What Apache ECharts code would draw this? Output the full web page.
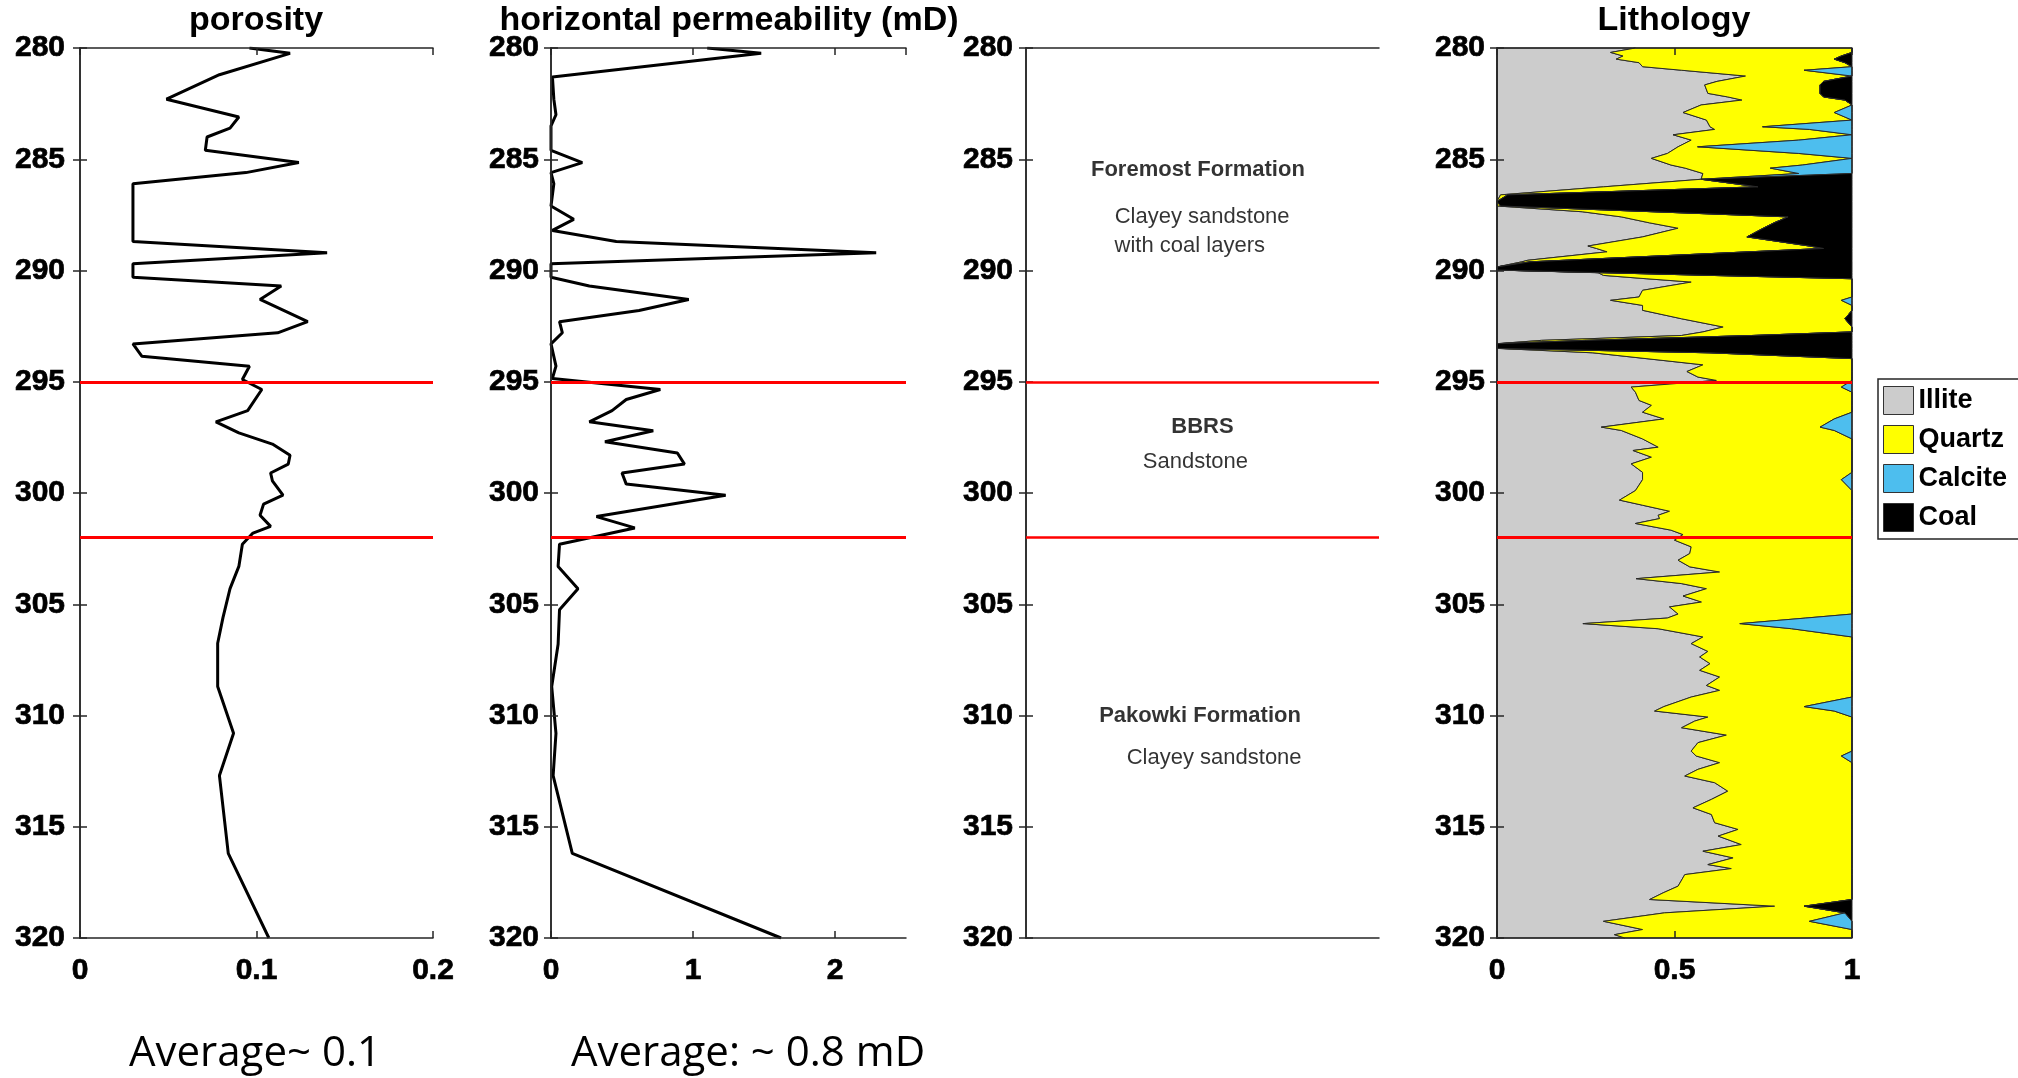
<!DOCTYPE html>
<html>
<head>
<meta charset="utf-8">
<title>Well log</title>
<script src="https://cdn.jsdelivr.net/npm/echarts@6.0.0/dist/echarts.min.js"></script>
<style>
  html, body { margin: 0; padding: 0; background: #fff; }
  #chart { width: 2018px; height: 1078px; }
</style>
</head>
<body>
<div id="chart"></div>
<script>
// porosity log (fraction)
const porosityDepth = [280.0, 280.24, 281.2, 282.3, 283.1, 283.6, 284.0, 284.6, 285.15, 285.6,
  286.1, 288.7, 289.2, 289.7, 290.3, 290.7, 291.3, 292.3, 292.8, 293.3,
  293.85, 294.3, 294.9, 295.35, 296.3, 296.8, 297.3, 297.8, 298.3, 298.7,
  299.1, 299.45, 300.1, 300.5, 301.0, 301.5, 301.8, 302.3, 303.3, 304.3,
  305.6, 306.75, 308.7, 310.8, 312.7, 316.2, 320.0]
const porosity = [0.096, 0.119, 0.079, 0.049, 0.090, 0.085, 0.072, 0.071, 0.124, 0.094,
  0.030, 0.030, 0.140, 0.030, 0.030, 0.114, 0.102, 0.129, 0.112, 0.030,
  0.035, 0.096, 0.092, 0.103, 0.095, 0.077, 0.090, 0.109, 0.119, 0.118,
  0.108, 0.109, 0.115, 0.104, 0.102, 0.108, 0.098, 0.092, 0.090, 0.085,
  0.081, 0.078, 0.078, 0.087, 0.079, 0.084, 0.107]

// horizontal permeability log (mD)
const permDepth = [280.0, 280.24, 281.3, 282.3, 283.0, 283.5, 284.6, 285.15, 285.6, 286.1,
  287.1, 287.7, 288.2, 288.7, 289.2, 289.7, 290.3, 290.7, 291.3, 291.8,
  292.3, 292.8, 293.3, 294.3, 294.85, 295.35, 295.8, 296.3, 296.8, 297.2,
  297.7, 298.2, 298.7, 299.1, 299.6, 300.1, 301.06, 301.57, 302.3, 303.3,
  304.3, 305.25, 306.8, 308.7, 310.8, 312.7, 316.2, 320.0]
const permeability = [1.10, 1.48, 0.01, 0.02, 0.035, 0.0, 0.0, 0.22, 0.0, 0.02,
  0.0, 0.16, 0.01, 0.46, 2.29, 0.0, 0.0, 0.27, 0.97, 0.62,
  0.06, 0.08, 0.0, 0.035, 0.01, 0.77, 0.53, 0.43, 0.27, 0.72,
  0.38, 0.89, 0.94, 0.50, 0.53, 1.23, 0.32, 0.59, 0.06, 0.05,
  0.19, 0.06, 0.05, 0.005, 0.035, 0.015, 0.15, 1.62]

// lithology fractions
const lithoDepth = [280.0, 280.2, 280.36, 280.5, 280.66, 280.84, 281.0, 281.26, 281.5, 281.66,
  282.04, 282.2, 282.34, 282.56, 282.9, 283.24, 283.54, 283.66, 283.9, 284.14,
  284.44, 284.74, 284.96, 285.26, 285.4, 285.64, 285.9, 286.24, 286.6, 286.9,
  287.1, 287.36, 287.59, 287.86, 288.1, 288.49, 288.9, 289.01, 289.16, 289.54,
  289.61, 289.84, 289.98, 290.1, 290.22, 290.37, 290.52, 290.89, 291.19, 291.34,
  291.57, 291.79, 292.17, 292.54, 292.76, 292.92, 293.14, 293.29, 293.5, 293.7,
  293.96, 294.24, 294.54, 294.79, 294.94, 295.24, 295.47, 295.84, 296.06, 296.37,
  296.67, 297.04, 297.19, 297.57, 297.94, 298.09, 298.39, 298.69, 299.07, 299.4,
  299.89, 300.32, 300.55, 300.82, 301.0, 301.15, 301.37, 301.67, 301.87, 302.12,
  302.42, 302.72, 303.02, 303.32, 303.55, 303.85, 304.07, 304.3, 304.63, 304.9,
  305.12, 305.44, 305.62, 305.87, 306.1, 306.47, 306.77, 307.12, 307.37, 307.67,
  307.97, 308.27, 308.65, 308.87, 309.17, 309.6, 309.8, 310.07, 310.25, 310.55,
  310.88, 311.22, 311.6, 311.82, 312.12, 312.42, 312.72, 313.02, 313.4, 313.77,
  314.15, 314.45, 314.82, 315.12, 315.42, 315.8, 316.1, 316.4, 316.7, 316.88,
  317.15, 317.67, 317.97, 318.27, 318.57, 318.87, 319.25, 319.62, 319.85, 320.0]
const illite = [0.39, 0.32, 0.355, 0.336, 0.40, 0.41, 0.52, 0.70, 0.62, 0.585,
  0.594, 0.65, 0.69, 0.575, 0.524, 0.59, 0.60, 0.613, 0.496, 0.547,
  0.51, 0.48, 0.435, 0.49, 0.53, 0.58, 0.575, 0.30, 0.01, 0,
  0, 0.24, 0.35, 0.43, 0.51, 0.41, 0.256, 0.28, 0.31, 0.087,
  0.07, 0, 0, 0.285, 0.30, 0.42, 0.547, 0.41, 0.40, 0.32,
  0.41, 0.41, 0.52, 0.637, 0.58, 0.52, 0.125, 0, 0, 0.27,
  0.42, 0.58, 0.535, 0.566, 0.618, 0.378, 0.39, 0.40, 0.435, 0.41,
  0.47, 0.294, 0.35, 0.41, 0.454, 0.383, 0.435, 0.378, 0.41, 0.41,
  0.39, 0.345, 0.41, 0.486, 0.454, 0.458, 0.39, 0.49, 0.524, 0.50,
  0.547, 0.543, 0.51, 0.543, 0.627, 0.392, 0.519, 0.59, 0.524, 0.576,
  0.486, 0.51, 0.48, 0.242, 0.454, 0.58, 0.547, 0.594, 0.571, 0.60,
  0.571, 0.627, 0.59, 0.627, 0.547, 0.47, 0.444, 0.594, 0.557, 0.52,
  0.646, 0.566, 0.547, 0.561, 0.627, 0.566, 0.529, 0.613, 0.65, 0.604,
  0.552, 0.604, 0.613, 0.679, 0.623, 0.688, 0.58, 0.665, 0.594, 0.66,
  0.529, 0.51, 0.468, 0.43, 0.782, 0.472, 0.30, 0.41, 0.331, 0.36]
const quartz = [0.61, 0.68, 0.615, 0.614, 0.58, 0.59, 0.345, 0.30, 0.30, 0.325,
  0.316, 0.27, 0.29, 0.425, 0.426, 0.41, 0.148, 0.267, 0.504, 0.303,
  0.055, 0.37, 0.565, 0.37, 0.24, 0.27, 0, 0.435, 0.02, 0,
  0.01, 0.20, 0.47, 0.35, 0.24, 0.294, 0.624, 0.64, 0.40, 0.103,
  0.023, 0, 0, 0.015, 0.30, 0.58, 0.453, 0.59, 0.60, 0.65,
  0.59, 0.59, 0.46, 0.363, 0.42, 0.20, 0.125, 0, 0, 0.33,
  0.58, 0.42, 0.465, 0.434, 0.382, 0.592, 0.61, 0.60, 0.565, 0.59,
  0.48, 0.616, 0.60, 0.59, 0.546, 0.617, 0.565, 0.622, 0.59, 0.56,
  0.61, 0.655, 0.59, 0.514, 0.546, 0.542, 0.61, 0.51, 0.476, 0.50,
  0.453, 0.457, 0.49, 0.457, 0.373, 0.608, 0.481, 0.41, 0.476, 0.424,
  0.514, 0.49, 0.39, 0.442, 0.376, 0.42, 0.453, 0.406, 0.429, 0.40,
  0.429, 0.373, 0.41, 0.373, 0.453, 0.395, 0.506, 0.406, 0.443, 0.48,
  0.354, 0.434, 0.453, 0.409, 0.373, 0.434, 0.471, 0.387, 0.35, 0.396,
  0.448, 0.396, 0.387, 0.321, 0.377, 0.312, 0.42, 0.335, 0.406, 0.34,
  0.471, 0.49, 0.532, 0.57, 0.083, 0.508, 0.58, 0.59, 0.669, 0.64]
const calcite = [0, 0, 0, 0, 0, 0, 0.135, 0, 0, 0,
  0, 0, 0, 0, 0.05, 0, 0.252, 0.12, 0, 0.15,
  0.435, 0.15, 0, 0.14, 0.23, 0.15, 0, 0, 0, 0,
  0, 0, 0, 0, 0, 0, 0, 0, 0, 0,
  0, 0, 0, 0, 0, 0, 0, 0, 0, 0.03,
  0, 0, 0, 0, 0, 0, 0, 0, 0, 0,
  0, 0, 0, 0, 0, 0.03, 0, 0, 0, 0,
  0.05, 0.09, 0.05, 0, 0, 0, 0, 0, 0, 0.03,
  0, 0, 0, 0, 0, 0, 0, 0, 0, 0,
  0, 0, 0, 0, 0, 0, 0, 0, 0, 0,
  0, 0, 0.13, 0.316, 0.17, 0, 0, 0, 0, 0,
  0, 0, 0, 0, 0, 0.135, 0.05, 0, 0, 0,
  0, 0, 0, 0.03, 0, 0, 0, 0, 0, 0,
  0, 0, 0, 0, 0, 0, 0, 0, 0, 0,
  0, 0, 0, 0, 0, 0, 0.12, 0, 0, 0]
const coal = [0, 0, 0.03, 0.05, 0.02, 0, 0, 0, 0.08, 0.09,
  0.09, 0.08, 0.02, 0, 0, 0, 0, 0, 0, 0,
  0, 0, 0, 0, 0, 0, 0.425, 0.265, 0.97, 1,
  0.99, 0.56, 0.18, 0.22, 0.25, 0.296, 0.12, 0.08, 0.29, 0.81,
  0.907, 1, 1, 0.70, 0.40, 0, 0, 0, 0, 0,
  0, 0, 0.02, 0, 0, 0.28, 0.75, 1, 1, 0.40,
  0, 0, 0, 0, 0, 0, 0, 0, 0, 0,
  0, 0, 0, 0, 0, 0, 0, 0, 0, 0,
  0, 0, 0, 0, 0, 0, 0, 0, 0, 0,
  0, 0, 0, 0, 0, 0, 0, 0, 0, 0,
  0, 0, 0, 0, 0, 0, 0, 0, 0, 0,
  0, 0, 0, 0, 0, 0, 0, 0, 0, 0,
  0, 0, 0, 0, 0, 0, 0, 0, 0, 0,
  0, 0, 0, 0, 0, 0, 0, 0, 0, 0,
  0, 0, 0, 0, 0.135, 0.02, 0, 0, 0, 0]
const lithoNames = ['Illite', 'Quartz', 'Calcite', 'Coal']

// formation tops (m)
const formationTops = [295, 302]

// formation annotations in the third track
const formationText = ['Foremost Formation', 'Clayey sandstone', 'with coal layers', 'BBRS', 'Sandstone', 'Pakowki Formation', 'Clayey sandstone']
const formationDepth = [285.5, 287.6, 288.9, 297.05, 298.6, 310.0, 311.9]
const formationPos = [0.487, 0.499, 0.464, 0.5, 0.48, 0.493, 0.533]
const formationBold = [true, false, false, true, false, true, false]

const FONT = '"Liberation Sans", Arial, sans-serif'
const lithoColors = ['#cccccc', '#ffff00', '#4dbeee', '#000000']
const frameColor = '#262626'

const panels = [
  { left: 80, width: 353, xMin: 0, xMax: 0.2, xStep: 0.1, labels: true, yMargin: 15 },
  { left: 551, width: 355, xMin: 0, xMax: 2.5, xStep: 1, labels: true, yMargin: 12 },
  { left: 1026, width: 353, xMin: 0, xMax: 1, xStep: 1, labels: false, yMargin: 13 },
  { left: 1497, width: 355, xMin: 0, xMax: 1, xStep: 0.5, labels: true, yMargin: 12 }
]

// running sums for the stacked lithology track
const layers = [illite, quartz, calcite, coal]
const cum = [lithoDepth.map(() => 0)]
layers.forEach((arr, k) => {
  cum.push(arr.map((v, i) => cum[k][i] + v))
})

const tickFont = {
  fontSize: 30, fontWeight: 'bold', color: '#000', fontFamily: FONT,
  textBorderColor: '#000', textBorderWidth: 0.7
}

const grids = []
const xAxes = []
const yAxes = []
panels.forEach((p, i) => {
  grids.push({ left: p.left, top: 48, width: p.width, height: 890 })
  const line = { show: true, lineStyle: { color: frameColor, width: 1.5 } }
  const tick = { show: p.labels, inside: true, length: 7, lineStyle: { color: frameColor, width: 1.5 } }
  xAxes.push({
    gridIndex: i, type: 'value', position: 'bottom', min: p.xMin, max: p.xMax, interval: p.xStep, z: 5,
    axisLine: line, axisTick: tick, splitLine: { show: false },
    axisLabel: Object.assign({ show: p.labels, showMaxLabel: i !== 1, margin: 18 }, tickFont)
  })
  xAxes.push({
    gridIndex: i, type: 'value', position: 'top', min: p.xMin, max: p.xMax, interval: p.xStep, z: 5,
    axisLine: line, axisTick: tick, splitLine: { show: false }, axisLabel: { show: false }
  })
  const ytick = { show: true, inside: true, length: 7, lineStyle: { color: frameColor, width: 1.5 } }
  yAxes.push({
    gridIndex: i, type: 'value', position: 'left', min: 280, max: 320, interval: 5, inverse: true, z: 5,
    axisLine: line, axisTick: ytick, splitLine: { show: false },
    axisLabel: Object.assign({ margin: p.yMargin }, tickFont)
  })
  yAxes.push({
    gridIndex: i, type: 'value', position: 'right', min: 280, max: 320, interval: 5, inverse: true, z: 5,
    axisLine: line, axisTick: ytick, splitLine: { show: false }, axisLabel: { show: false }
  })
})

function logSeries (g, depth, values) {
  return {
    type: 'line', xAxisIndex: 2 * g, yAxisIndex: 2 * g,
    data: values.map((v, i) => [v, depth[i]]),
    showSymbol: false, silent: true, z: 3,
    lineStyle: { color: '#000', width: 3 }
  }
}

function boundarySeries (g, width) {
  return {
    type: 'line', xAxisIndex: 2 * g, yAxisIndex: 2 * g,
    data: [[0, 280]], showSymbol: false, silent: true, z: 10,
    lineStyle: { opacity: 0 },
    markLine: {
      silent: true, symbol: 'none', animation: false, z: 10,
      label: { show: false },
      lineStyle: { color: '#ff0000', width: width, type: 'solid' },
      data: formationTops.map(d => ({ yAxis: d }))
    }
  }
}

function layerSeries (k) {
  return {
    name: lithoNames[k], type: 'custom', xAxisIndex: 6, yAxisIndex: 6,
    data: [[0, 280]], silent: true, z: 2,
    itemStyle: { color: lithoColors[k] },
    renderItem: function (params, api) {
      const pts = []
      for (let i = 0; i < lithoDepth.length; i++) {
        pts.push(api.coord([cum[k][i], lithoDepth[i]]))
      }
      for (let i = lithoDepth.length - 1; i >= 0; i--) {
        pts.push(api.coord([cum[k + 1][i], lithoDepth[i]]))
      }
      return {
        type: 'polygon',
        shape: { points: pts },
        style: { fill: lithoColors[k], stroke: '#2a2a2a', lineWidth: 1 }
      }
    }
  }
}

const series = [
  logSeries(0, porosityDepth, porosity),
  logSeries(1, permDepth, permeability),
  {
    type: 'scatter', xAxisIndex: 4, yAxisIndex: 4, symbolSize: 0, silent: true,
    data: formationText.map((t, i) => ({
      name: t,
      value: [formationPos[i], formationDepth[i]],
      label: {
        show: true, position: 'inside', formatter: '{b}',
        fontSize: 22, fontFamily: FONT, color: '#000',
        fontWeight: formationBold[i] ? 'bold' : 'normal'
      }
    }))
  },
  layerSeries(0), layerSeries(1), layerSeries(2), layerSeries(3),
  boundarySeries(0, 3), boundarySeries(1, 3), boundarySeries(2, 2.5), boundarySeries(3, 3)
]

function label (text, x, y, font) {
  return {
    type: 'text', x: x, y: y, silent: true,
    style: { text: text, font: font, fill: '#000', textAlign: 'center', textVerticalAlign: 'middle' }
  }
}

const option = {
  animation: false,
  backgroundColor: '#fff',
  grid: grids,
  xAxis: xAxes,
  yAxis: yAxes,
  legend: {
    orient: 'vertical', left: 1878, top: 379,
    data: lithoNames,
    icon: 'rect', itemWidth: 30, itemHeight: 28, itemGap: 10,
    padding: [7, 12, 7, 5],
    selectedMode: false,
    backgroundColor: '#fff', borderColor: frameColor, borderWidth: 1.5, borderRadius: 0,
    itemStyle: { borderColor: '#333', borderWidth: 1 },
    textStyle: { fontSize: 27, fontWeight: 'bold', color: '#000', fontFamily: FONT }
  },
  graphic: [
    label('porosity', 256, 21, 'bold 34px ' + FONT),
    label('horizontal permeability (mD)', 729, 21, 'bold 34px ' + FONT),
    label('Lithology', 1674, 21, 'bold 34px ' + FONT),
    label('Average~ 0.1', 255, 1054, '42px "Open Sans", sans-serif'),
    label('Average: ~ 0.8 mD', 748, 1054, '42px "Open Sans", sans-serif')
  ],
  series: series
}

const chart = echarts.init(document.getElementById('chart'))
chart.setOption(option)
</script>
</body>
</html>
